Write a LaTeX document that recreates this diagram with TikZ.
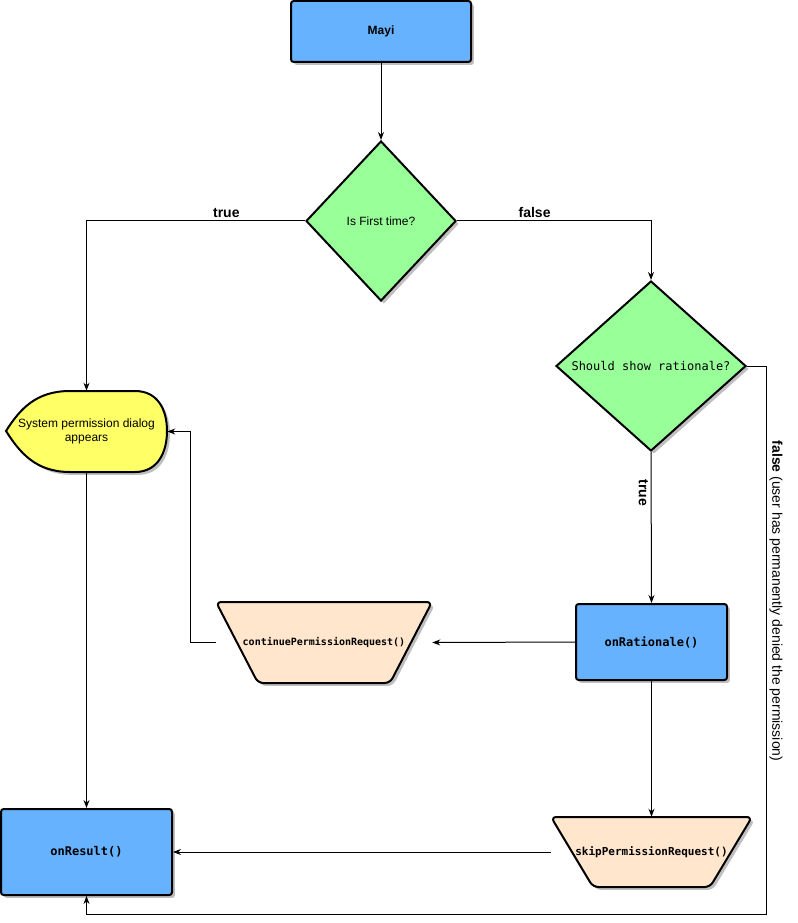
\documentclass[tikz,border=0pt]{standalone}
\usepackage{fontspec}
\setmainfont{Liberation Sans}
\setmonofont{DejaVu Sans Mono}
\usetikzlibrary{arrows.meta, shapes.geometric, shadows}

\definecolor{callblue}{HTML}{66B2FF}
\definecolor{askgreen}{HTML}{99FF99}
\definecolor{dlgyellow}{HTML}{FFFF66}
\definecolor{hookpeach}{HTML}{FFE6CC}

\begin{document}
\begin{tikzpicture}[
  x=0.75pt, y=-0.75pt,
  font=\fontsize{9}{10.5}\selectfont,
  dropsh/.style={drop shadow={shadow xshift=2.2pt, shadow yshift=-2.2pt, opacity=0.25, fill=black}},
  call/.style={draw=black, fill=callblue, rounded corners=2pt, line width=1.5pt, dropsh, align=center},
  decision/.style={diamond, draw=black, fill=askgreen, line width=1.5pt, inner sep=0pt, dropsh},
  hook/.style={draw=black, fill=hookpeach, line width=1.5pt, rounded corners=4pt, dropsh},
  dialog/.style={draw=black, fill=dlgyellow, line width=1.5pt, dropsh},
  lbl/.style={font=\fontsize{10.5}{12}\selectfont\bfseries, inner sep=2pt},
  ar/.style={-{Stealth[length=6pt,width=4.5pt]}, line width=0.75pt},
]
\useasboundingbox (0,0) rectangle (797,923);

% ---- entry point ----
\node[call, minimum width=135pt, minimum height=45.75pt, font=\fontsize{9}{10.5}\selectfont\bfseries] (mayi) at (381,31.5) {Mayi};

% ---- the two checks ----
\node[decision, minimum width=112.5pt, minimum height=120pt] (first) at (381,221) {};
\node (firstTxt) at (first) {Is First time?};

\node[decision, minimum width=142.5pt, minimum height=127.5pt] (rat) at (651,366) {};
\node[font=\fontsize{9}{10.5}\selectfont\ttfamily] (ratTxt) at (rat) {Should show rationale?};

% ---- system dialog (display shape) ----
\draw[dialog] (6,431) .. controls (20,409) and (36,391) .. (70,391) -- (135,391)
  .. controls (158,391) and (167,410) .. (167,431)
  .. controls (167,452) and (158,472) .. (135,472) -- (70,472)
  .. controls (36,472) and (20,453) .. cycle;
\node[align=center, minimum width=120.75pt, minimum height=60.75pt] (sys) at (86.5,431.5) {System permission dialog\\appears};

% ---- callbacks ----
\node[call, minimum width=113.25pt, minimum height=57pt, font=\fontsize{9}{10.5}\selectfont\ttfamily\bfseries] (onrat) at (651.5,642) {onRationale()};
\node[call, minimum width=128.25pt, minimum height=64.5pt, font=\fontsize{9}{10.5}\selectfont\ttfamily\bfseries] (res) at (86.5,852) {onResult()};

% ---- manual operations ----
\draw[hook] (216,602) -- (432,602) -- (390,683) -- (258,683) -- cycle;
\node[minimum width=162pt, minimum height=60.75pt, font=\fontsize{7.5}{9}\selectfont\ttfamily\bfseries] (cont) at (324,642.5) {continuePermissionRequest()};

\draw[hook] (551,817) -- (752,817) -- (710,887) -- (593,887) -- cycle;
\node[minimum width=150.75pt, minimum height=52.5pt, font=\fontsize{8.25}{9.5}\selectfont\ttfamily\bfseries] (skip) at (651.5,852) {skipPermissionRequest()};

% ---- connectors ----
\draw[ar] (mayi) -- (first);
\draw[ar] (first.west) -| node[lbl, pos=0.18, above] (firstTrue) {true} (sys.north);
\draw[ar] (first.east) -| node[lbl, pos=0.2, above] (firstFalse) {false} (rat.north);
\draw[ar] (rat.south) -- node[lbl, rotate=-90, pos=0.27, below] (ratTrue) {true} (onrat.north);
\draw[ar] (onrat.west) -- (cont.east);
\draw[ar] (cont.west) -- ++(-25,0) |- (sys.east);
\draw[ar] (sys.south) -- (res.north);
\draw[ar] (onrat.south) -- (skip.north);
\draw[ar] (skip.west) -- (res.east);

\coordinate (back) at (766,914);
\draw[ar] (rat.east) -| (back) -| (res.south);
\node[rotate=-90, font=\fontsize{10.5}{12}\selectfont] (permLbl) at (776,601) {\textbf{false} (user has permanently denied the permission)};
\end{tikzpicture}
\end{document}
